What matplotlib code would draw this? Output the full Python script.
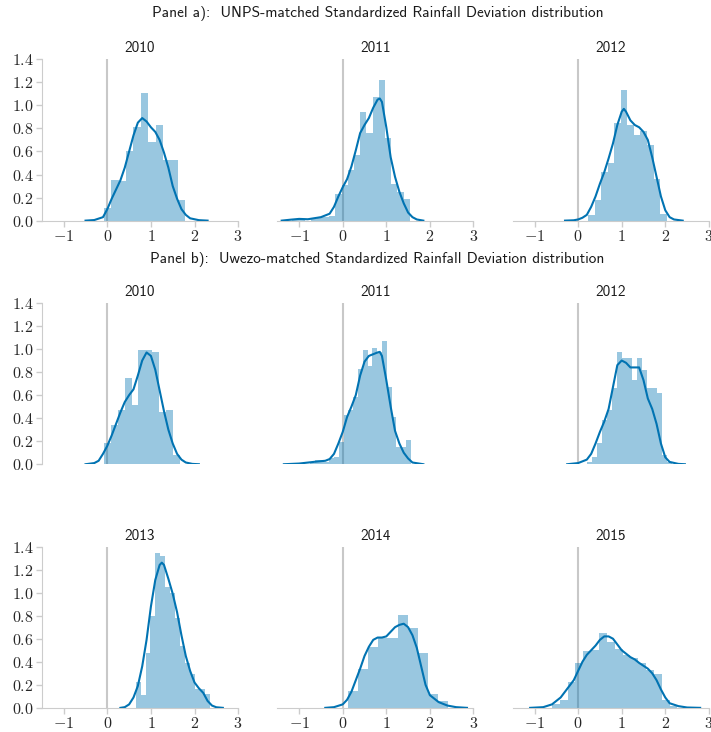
import numpy as np
import matplotlib
matplotlib.use("Agg")
import matplotlib.pyplot as plt

# histogram bins: first edge, bin width, bar heights (density)

# Panel a) UNPS
a2010_start, a2010_width = -0.08, 0.17
a2010_heights = [0.11, 0.355, 0.34, 0.60, 0.81, 1.11, 0.68, 0.83, 0.53, 0.53, 0.18]
a2010_kde_x = [-0.5, -0.3, -0.1, 0.0, 0.1, 0.2, 0.3, 0.4, 0.5, 0.6, 0.7, 0.8, 0.9, 1.0,
               1.1, 1.2, 1.3, 1.4, 1.5, 1.6, 1.7, 1.8, 1.9, 2.1, 2.3]
a2010_kde_y = [0.0, 0.005, 0.03, 0.10, 0.19, 0.27, 0.35, 0.46, 0.60, 0.74, 0.85, 0.89, 0.86, 0.81,
               0.77, 0.70, 0.59, 0.46, 0.30, 0.19, 0.10, 0.05, 0.02, 0.004, 0.0]

a2011_start, a2011_width = -1.16, 0.142
a2011_heights = [0.015, 0.015, 0.0, 0.01, 0.03, 0.03, 0.04, 0.23, 0.31, 0.44, 0.57, 0.94,
                 0.76, 1.07, 1.22, 0.72, 0.32, 0.25, 0.19]
a2011_kde_x = [-1.4, -1.2, -1.0, -0.8, -0.5, -0.3, -0.2, -0.1, 0.0, 0.1, 0.2, 0.3, 0.4, 0.5,
               0.6, 0.7, 0.8, 0.85, 0.9, 1.0, 1.1, 1.2, 1.3, 1.4, 1.5, 1.6, 1.7, 1.85]
a2011_kde_y = [0.0, 0.008, 0.015, 0.012, 0.03, 0.06, 0.12, 0.21, 0.29, 0.36, 0.47, 0.61, 0.76, 0.83,
               0.89, 0.98, 1.05, 1.06, 1.03, 0.81, 0.55, 0.38, 0.25, 0.15, 0.07, 0.03, 0.01, 0.0]

a2012_start, a2012_width = 0.23, 0.15
a2012_heights = [0.05, 0.18, 0.42, 0.50, 0.85, 1.13, 0.83, 0.74, 0.78, 0.66, 0.36, 0.06]
a2012_kde_x = [-0.3, -0.1, 0.0, 0.1, 0.2, 0.3, 0.4, 0.5, 0.6, 0.7, 0.8, 0.9, 1.0, 1.05, 1.1,
               1.2, 1.3, 1.4, 1.5, 1.6, 1.7, 1.8, 1.9, 2.0, 2.1, 2.2, 2.4]
a2012_kde_y = [0.0, 0.003, 0.01, 0.025, 0.05, 0.12, 0.21, 0.32, 0.42, 0.54, 0.67, 0.83, 0.945, 0.97, 0.945,
               0.87, 0.83, 0.81, 0.77, 0.70, 0.55, 0.38, 0.21, 0.09, 0.03, 0.01, 0.0]

# Panel b) Uwezo
b2010_start, b2010_width = -0.085, 0.16
b2010_heights = [0.18, 0.34, 0.47, 0.75, 0.51, 0.99, 0.99, 0.97, 0.45, 0.47, 0.08]
b2010_kde_x = [-0.5, -0.3, -0.2, -0.1, 0.0, 0.1, 0.2, 0.3, 0.4, 0.5, 0.6, 0.7, 0.8, 0.9, 1.0,
               1.1, 1.2, 1.3, 1.4, 1.5, 1.6, 1.7, 1.8, 1.95, 2.1]
b2010_kde_y = [0.0, 0.01, 0.03, 0.09, 0.16, 0.25, 0.35, 0.45, 0.54, 0.60, 0.65, 0.77, 0.90, 0.97, 0.94,
               0.82, 0.64, 0.46, 0.30, 0.18, 0.09, 0.04, 0.015, 0.003, 0.0]

b2011_start, b2011_width = -0.75, 0.11
b2011_heights = [0.01, 0.04, 0.04, 0.02, 0.05, 0.06, 0.19, 0.43, 0.47, 0.58, 0.83, 0.99,
                 0.85, 1.01, 0.97, 1.07, 0.67, 0.41, 0.15, 0.15, 0.21]
b2011_kde_x = [-1.35, -1.0, -0.6, -0.4, -0.3, -0.2, -0.1, 0.0, 0.1, 0.2, 0.3, 0.4, 0.5, 0.6, 0.7,
               0.8, 0.85, 0.9, 1.0, 1.1, 1.2, 1.3, 1.4, 1.5, 1.6, 1.85]
b2011_kde_y = [0.0, 0.006, 0.023, 0.03, 0.045, 0.09, 0.18, 0.28, 0.41, 0.50, 0.60, 0.77, 0.89, 0.94, 0.955,
               0.97, 0.975, 0.94, 0.73, 0.50, 0.29, 0.18, 0.10, 0.05, 0.015, 0.0]

b2012_start, b2012_width = 0.20, 0.115
b2012_heights = [0.02, 0.06, 0.18, 0.38, 0.47, 0.66, 0.97, 0.92, 0.92, 0.73, 0.92, 0.82,
                 0.66, 0.66, 0.62, 0.08, 0.02]
b2012_kde_x = [-0.25, 0.0, 0.2, 0.3, 0.4, 0.5, 0.6, 0.7, 0.8, 0.9, 1.0, 1.1, 1.2, 1.3, 1.4,
               1.5, 1.6, 1.7, 1.8, 1.9, 2.0, 2.1, 2.3, 2.45]
b2012_kde_y = [0.0, 0.01, 0.04, 0.09, 0.18, 0.28, 0.37, 0.48, 0.67, 0.86, 0.90, 0.88, 0.84, 0.84, 0.84,
               0.73, 0.57, 0.48, 0.35, 0.18, 0.06, 0.02, 0.003, 0.0]

b2013_start, b2013_width = 0.65, 0.113
b2013_heights = [0.22, 0.11, 0.48, 0.80, 1.34, 1.32, 1.05, 1.0, 0.78, 0.54, 0.39, 0.29,
                 0.16, 0.16, 0.12]
b2013_kde_x = [0.3, 0.4, 0.5, 0.6, 0.7, 0.8, 0.9, 1.0, 1.1, 1.2, 1.25, 1.3, 1.4, 1.5, 1.6,
               1.7, 1.8, 1.9, 2.0, 2.1, 2.2, 2.3, 2.4, 2.5, 2.65]
b2013_kde_y = [0.0, 0.006, 0.03, 0.09, 0.19, 0.36, 0.59, 0.88, 1.11, 1.24, 1.26, 1.24, 1.12, 0.99, 0.83,
               0.63, 0.45, 0.32, 0.22, 0.17, 0.13, 0.06, 0.02, 0.005, 0.0]

b2014_start, b2014_width = 0.12, 0.23
b2014_heights = [0.15, 0.34, 0.53, 0.61, 0.61, 0.81, 0.69, 0.48, 0.12, 0.06]
b2014_kde_x = [-0.4, -0.2, 0.0, 0.1, 0.2, 0.3, 0.4, 0.5, 0.6, 0.7, 0.8, 0.9, 1.0, 1.1, 1.2,
               1.3, 1.4, 1.5, 1.6, 1.7, 1.8, 1.9, 2.0, 2.1, 2.2, 2.4, 2.6, 2.85]
b2014_kde_y = [0.0, 0.006, 0.03, 0.07, 0.14, 0.24, 0.34, 0.45, 0.53, 0.59, 0.61, 0.61, 0.62, 0.66, 0.70,
               0.72, 0.73, 0.70, 0.63, 0.52, 0.36, 0.20, 0.11, 0.08, 0.05, 0.02, 0.006, 0.0]

b2015_start, b2015_width = -0.60, 0.18
b2015_heights = [0.03, 0.07, 0.22, 0.39, 0.49, 0.50, 0.65, 0.57, 0.51, 0.46, 0.43, 0.39,
                 0.33, 0.29, 0.07, 0.02]
b2015_kde_x = [-1.1, -0.8, -0.6, -0.4, -0.3, -0.2, -0.1, 0.0, 0.1, 0.2, 0.3, 0.4, 0.5, 0.6, 0.7,
               0.8, 0.9, 1.0, 1.1, 1.2, 1.3, 1.4, 1.5, 1.6, 1.7, 1.8, 1.9, 2.0, 2.1, 2.3, 2.5, 2.8]
b2015_kde_y = [0.0, 0.006, 0.03, 0.09, 0.14, 0.19, 0.24, 0.32, 0.40, 0.46, 0.50, 0.54, 0.59, 0.62, 0.62,
               0.60, 0.55, 0.50, 0.47, 0.44, 0.42, 0.39, 0.365, 0.34, 0.30, 0.24, 0.16, 0.09, 0.04, 0.015, 0.003, 0.0]

x_ticks = [-1, 0, 1, 2, 3]
y_ticks = [0.0, 0.2, 0.4, 0.6, 0.8, 1.0, 1.2, 1.4]

panels = [
    ("2010", a2010_start, a2010_width, a2010_heights, a2010_kde_x, a2010_kde_y),
    ("2011", a2011_start, a2011_width, a2011_heights, a2011_kde_x, a2011_kde_y),
    ("2012", a2012_start, a2012_width, a2012_heights, a2012_kde_x, a2012_kde_y),
    ("2010", b2010_start, b2010_width, b2010_heights, b2010_kde_x, b2010_kde_y),
    ("2011", b2011_start, b2011_width, b2011_heights, b2011_kde_x, b2011_kde_y),
    ("2012", b2012_start, b2012_width, b2012_heights, b2012_kde_x, b2012_kde_y),
    ("2013", b2013_start, b2013_width, b2013_heights, b2013_kde_x, b2013_kde_y),
    ("2014", b2014_start, b2014_width, b2014_heights, b2014_kde_x, b2014_kde_y),
    ("2015", b2015_start, b2015_width, b2015_heights, b2015_kde_x, b2015_kde_y),
]

plt.rcParams['font.family'] = 'cmr10'
plt.rcParams['mathtext.fontset'] = 'cm'
plt.rcParams['axes.formatter.use_mathtext'] = True

blue = '#0173b2'
sans = 'cmss10'

fig, axes = plt.subplots(3, 3, figsize=(7.11, 7.32), dpi=100)
fig.subplots_adjust(left=0.059, right=0.997, bottom=0.033, top=0.919,
                    wspace=0.2, hspace=0.51)

for i, (year, start, width, heights, kx, ky) in enumerate(panels):
    ax = axes.flat[i]
    row, col = divmod(i, 3)
    edges = start + width * np.arange(len(heights))
    ax.bar(edges, heights, width=width, align='edge', color=blue, alpha=0.4,
           linewidth=0, zorder=1)
    ax.plot(kx, ky, color=blue, lw=1.5, zorder=3)
    ax.axvline(0, color='#c8c8c8', lw=1.5, zorder=0.5)

    ax.set_xlim(-1.5, 3)
    ax.set_ylim(0, 1.4)
    ax.set_xticks(x_ticks)
    ax.set_yticks(y_ticks)
    ax.set_title(year, family=sans, fontsize=11, pad=5, color='.1')

    for s in ['top', 'right']:
        ax.spines[s].set_visible(False)
    for s in ['left', 'bottom']:
        ax.spines[s].set_color('.8')
    ax.tick_params(length=4, width=1, color='.8', labelcolor='.15', labelsize=11.5, pad=2)

    if col > 0:
        ax.spines['left'].set_visible(False)
        ax.tick_params(left=False, labelleft=False)
    if row == 1:
        ax.spines['bottom'].set_visible(False)
        ax.tick_params(bottom=False, labelbottom=False)

fig.text(0.531, 0.981, "Panel a):  UNPS-matched Standardized Rainfall Deviation distribution",
         ha='center', va='center', family=sans, fontsize=11, color='.1')
fig.text(0.531, 0.646, "Panel b):  Uwezo-matched Standardized Rainfall Deviation distribution",
         ha='center', va='center', family=sans, fontsize=11, color='.1')

fig.savefig('out.png', dpi=100)
